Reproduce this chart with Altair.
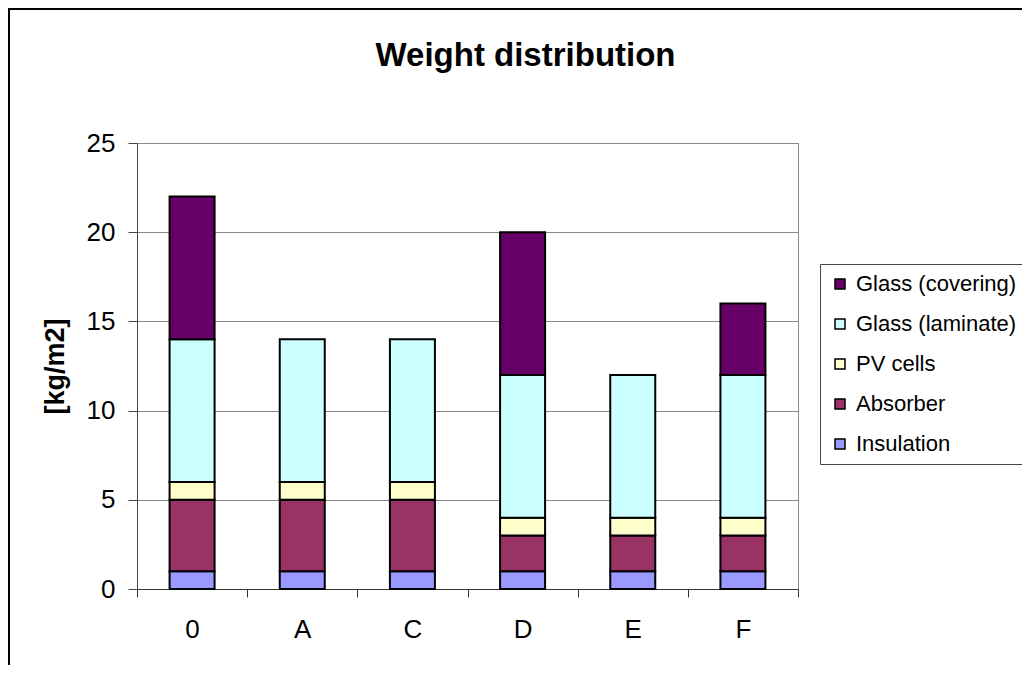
import altair as alt
import pandas as pd

categories = ["0", "A", "C", "D", "E", "F"]
components = ["Insulation", "Absorber", "PV cells", "Glass (laminate)", "Glass (covering)"]
insulation = [1, 1, 1, 1, 1, 1]
absorber = [4, 4, 4, 2, 2, 2]
pv_cells = [1, 1, 1, 1, 1, 1]
glass_laminate = [8, 8, 8, 8, 8, 8]
glass_covering = [8, 0, 0, 8, 0, 4]
colors = {
    "Glass (covering)": "#660066",
    "Glass (laminate)": "#CCFFFF",
    "PV cells": "#FFFFCC",
    "Absorber": "#993366",
    "Insulation": "#9999FF",
}
legend_order = ["Glass (covering)", "Glass (laminate)", "PV cells", "Absorber", "Insulation"]

series = [insulation, absorber, pv_cells, glass_laminate, glass_covering]
rows = []
for k, (comp, vals) in enumerate(zip(components, series)):
    for cat, v in zip(categories, vals):
        if v > 0:
            rows.append({"Design": cat, "Component": comp, "Weight": v, "order": k})
df = pd.DataFrame(rows)

FONT = "Liberation Sans"

bars = alt.Chart(df).mark_bar(size=45, stroke="black", strokeWidth=2).encode(
    x=alt.X("Design:N", sort=categories, title=None,
            scale=alt.Scale(paddingInner=0, paddingOuter=0),
            axis=alt.Axis(labelAngle=0, tickBand="extent", grid=False,
                          tickSize=8, labelPadding=19, labelFontSize=26,
                          domainColor="#333333", tickColor="#333333",
                          labelColor="black", labelFont=FONT)),
    y=alt.Y("Weight:Q", stack="zero", title="[kg/m2]",
            scale=alt.Scale(domain=[0, 25], nice=False),
            axis=alt.Axis(values=[0, 5, 10, 15, 20, 25], tickSize=9, labelPadding=13,
                          labelFontSize=26, labelFont=FONT, labelColor="black",
                          titleFontSize=27, titleFont=FONT, titleFontWeight="bold",
                          titleColor="black", titlePadding=17,
                          gridColor="#888888", domainColor="#444444", tickColor="#444444")),
    color=alt.Color("Component:N",
                    scale=alt.Scale(domain=legend_order, range=[colors[c] for c in legend_order]),
                    legend=alt.Legend(title=None, orient="none", legendX=683, legendY=121,
                                      symbolType="square", symbolSize=100,
                                      symbolStrokeColor="black", symbolStrokeWidth=1.5,
                                      symbolOpacity=1, labelLimit=400,
                                      labelFontSize=22, labelFont=FONT, labelColor="black",
                                      labelOffset=5, rowPadding=18, padding=9,
                                      strokeColor="#444444", fillColor="white")),
    order=alt.Order("order:Q", sort="ascending"),
)

frame = alt.Chart(alt.Data(values=[{"a": 1}])).mark_rect(
    filled=False, stroke="black", strokeWidth=2
).encode(
    x=alt.value(-128), x2=alt.value(900), y=alt.value(-134), y2=alt.value(600)
)

chart = alt.layer(frame, bars).properties(
    width=661, height=446,
    title=alt.TitleParams("Weight distribution", fontSize=33, font=FONT, fontWeight="bold",
                          anchor="middle", dx=58, offset=-65, color="black"),
    autosize=alt.AutoSizeParams(type="none"),
    padding={"left": 129, "top": 135, "right": 224, "bottom": 76},
).configure_view(stroke="#888888", strokeWidth=1)

chart.save("out.html", embed_options={"renderer": "svg", "actions": False})
